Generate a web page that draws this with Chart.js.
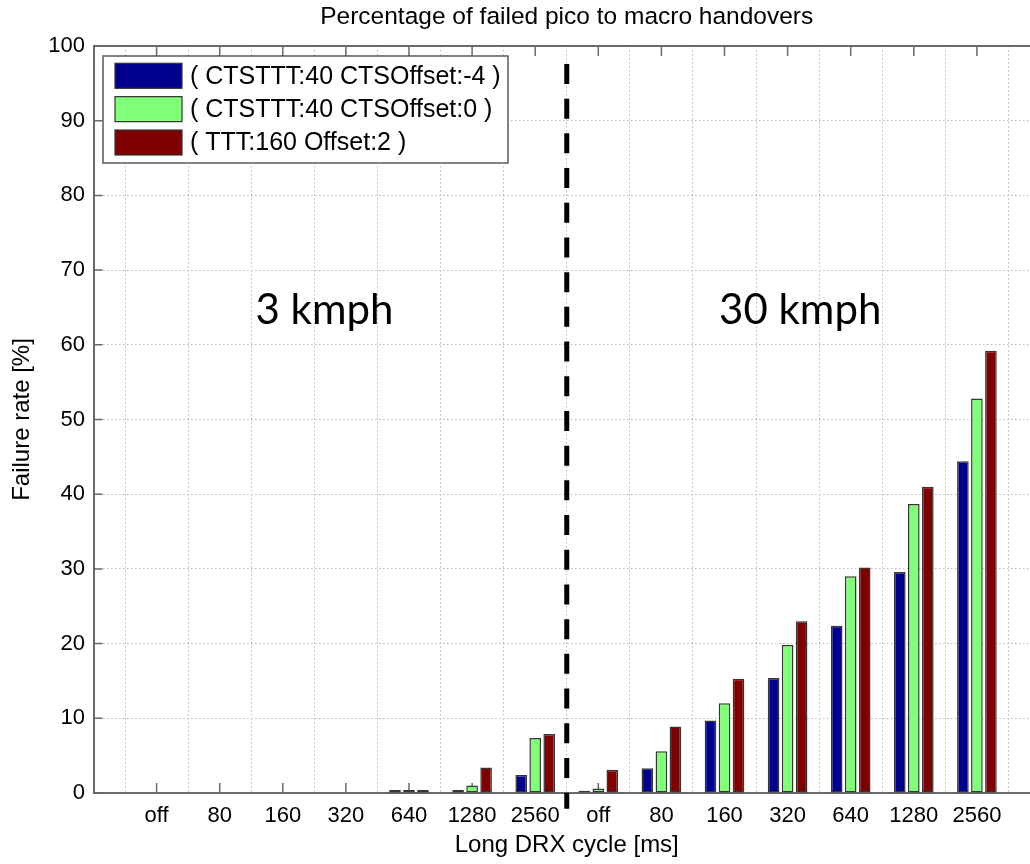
<!DOCTYPE html>
<html>
<head>
<meta charset="utf-8">
<script src="https://cdn.jsdelivr.net/npm/chart.js@4.4.1/dist/chart.umd.min.js"></script>
<style>
html,body{margin:0;padding:0;overflow:hidden;background:#fff;width:1030px;height:864px}
canvas{display:block}
</style>
</head>
<body>
<canvas id="c" width="1050" height="864"></canvas>
<script>
// ---- data ----
const drxCycles = ['off', '80', '160', '320', '640', '1280', '2560'];
const categories = [...drxCycles, ...drxCycles];           // 3 kmph group, then 30 kmph group
const seriesNames = ['( CTSTTT:40 CTSOffset:-4 )', '( CTSTTT:40 CTSOffset:0 )', '( TTT:160 Offset:2 )'];
const ctsOffsetMinus4 = [0, 0, 0, 0, 0.4, 0.4, 2.4,   0.3, 3.3, 9.7, 15.4, 22.4, 29.6, 44.4];
const ctsOffset0      = [0, 0, 0, 0, 0.4, 1.0, 7.35,  0.6, 5.6, 12.0, 19.8, 29.0, 38.7, 52.8];
const ttt160Offset2   = [0, 0, 0, 0, 0.4, 3.4, 7.9,   3.1, 8.9, 15.3, 23.0, 30.2, 41.0, 59.2];
const yTickStep = 10, yMin = 0, yMax = 100;
const speedLabels = ['3 kmph', '30 kmph'];

const FONT = "'Liberation Sans', Arial, Helvetica, sans-serif";
const colors = ['#00008f', '#80ff78', '#800000'];
const series = [ctsOffsetMinus4, ctsOffset0, ttt160Offset2];

// category axis padded with an empty slot at each end (MATLAB-like x limits)
const xLabels = ['', ...categories, ''];
const pad = arr => [null, ...arr, null];

const AXIS_COLOR = '#6a6a6a';

const decorPlugin = {
  id: 'decor',
  beforeDatasetsDraw(chart) {
    const {ctx, chartArea: ca, scales: {x, y}} = chart;
    ctx.save();
    ctx.strokeStyle = AXIS_COLOR;
    ctx.lineWidth = 1.5;
    ctx.beginPath();
    for (let i = 1; i < x.ticks.length - 1; i++) {
      const px = x.getPixelForTick(i);
      ctx.moveTo(px, ca.bottom); ctx.lineTo(px, ca.bottom - 10);
      ctx.moveTo(px, ca.top); ctx.lineTo(px, ca.top + 10);
    }
    for (let i = 0; i < y.ticks.length; i++) {
      const py = y.getPixelForTick(i);
      ctx.moveTo(ca.left, py); ctx.lineTo(ca.left + 9, py);
    }
    ctx.stroke();
    ctx.restore();
  },
  afterDraw(chart) {
    const {ctx, chartArea: ca, scales: {x, y}} = chart;
    ctx.save();
    // top frame line
    ctx.strokeStyle = AXIS_COLOR;
    ctx.lineWidth = 2;
    ctx.beginPath();
    ctx.moveTo(ca.left, ca.top); ctx.lineTo(ca.right, ca.top);
    ctx.stroke();

    // dashed separator between the two speed groups
    const sx = x.getPixelForValue(7.5);
    ctx.strokeStyle = '#000';
    ctx.lineWidth = 5;
    ctx.setLineDash([20, 14.7]);
    ctx.beginPath();
    ctx.moveTo(sx, y.getPixelForValue(97.6));
    ctx.lineTo(sx, y.getPixelForValue(-2.1));
    ctx.stroke();
    ctx.setLineDash([]);

    // speed annotations
    ctx.fillStyle = '#000';
    ctx.font = "42px Lato, 'Open Sans', sans-serif";
    ctx.textAlign = 'center';
    ctx.textBaseline = 'alphabetic';
    ctx.fillText(speedLabels[0], x.getPixelForValue(3.66), y.getPixelForValue(62.8));
    ctx.fillText(speedLabels[1], x.getPixelForValue(11.2), y.getPixelForValue(62.8));

    // legend box
    const lx = ca.left + 9.5, ly = ca.top + 10, lw = 405, lh = 107;
    ctx.fillStyle = '#fff';
    ctx.fillRect(lx, ly, lw, lh);
    ctx.strokeStyle = '#5a5a5a';
    ctx.lineWidth = 1.5;
    ctx.strokeRect(lx, ly, lw, lh);
    ctx.font = '25px ' + FONT;
    ctx.textAlign = 'left';
    ctx.textBaseline = 'middle';
    chart.data.datasets.forEach((ds, i) => {
      const cy = ly + 19.8 + i * 33.35;
      ctx.fillStyle = ds.backgroundColor;
      ctx.fillRect(lx + 12, cy - 12.5, 67, 25);
      ctx.strokeStyle = '#333';
      ctx.lineWidth = 1.2;
      ctx.strokeRect(lx + 12, cy - 12.5, 67, 25);
      ctx.fillStyle = '#000';
      ctx.fillText(ds.label, lx + 87, cy + 1);
    });
    ctx.restore();
  }
};

new Chart(document.getElementById('c'), {
  type: 'bar',
  data: {
    labels: xLabels,
    datasets: series.map((vals, i) => ({
      label: seriesNames[i],
      data: pad(vals),
      backgroundColor: colors[i],
      borderColor: '#363636',
      borderWidth: 1.5,
      borderSkipped: false,
      categoryPercentage: 0.666,
      barPercentage: 0.83
    }))
  },
  options: {
    responsive: false,
    animation: false,
    devicePixelRatio: 1,
    layout: {padding: {left: 0, right: 10, top: 0, bottom: 0}},
    plugins: {
      legend: {display: false},
      tooltip: {enabled: false},
      title: {
        display: true,
        fullSize: false,
        text: 'Percentage of failed pico to macro handovers',
        color: '#000',
        font: {family: FONT, size: 24.5, weight: 'normal'},
        padding: {top: 3, bottom: 13.6}
      }
    },
    scales: {
      x: {
        type: 'category',
        offset: false,
        grid: {color: '#b8b8b8', lineWidth: 1, drawTicks: false},
        border: {color: AXIS_COLOR, width: 2, dash: [1.5, 2.5]},
        ticks: {autoSkip: false, maxRotation: 0, minRotation: 0, padding: 10, color: '#000', font: {family: FONT, size: 22}},
        title: {display: true, text: 'Long DRX cycle [ms]', color: '#000', font: {family: FONT, size: 24}, padding: {top: 0, bottom: 4}},
        afterFit(s) { s.height = 71; }
      },
      y: {
        min: yMin, max: yMax,
        grid: {color: '#b8b8b8', lineWidth: 1, drawTicks: false},
        border: {color: AXIS_COLOR, width: 2, dash: [1.5, 2.5]},
        ticks: {stepSize: yTickStep, padding: 8.5, color: '#000', font: {family: FONT, size: 22}},
        title: {display: true, text: 'Failure rate [%]', color: '#000', font: {family: FONT, size: 24}, padding: {top: 8, bottom: 0}},
        afterFit(s) { s.width = 93.5; }
      }
    }
  },
  plugins: [decorPlugin]
});
</script>
</body>
</html>
